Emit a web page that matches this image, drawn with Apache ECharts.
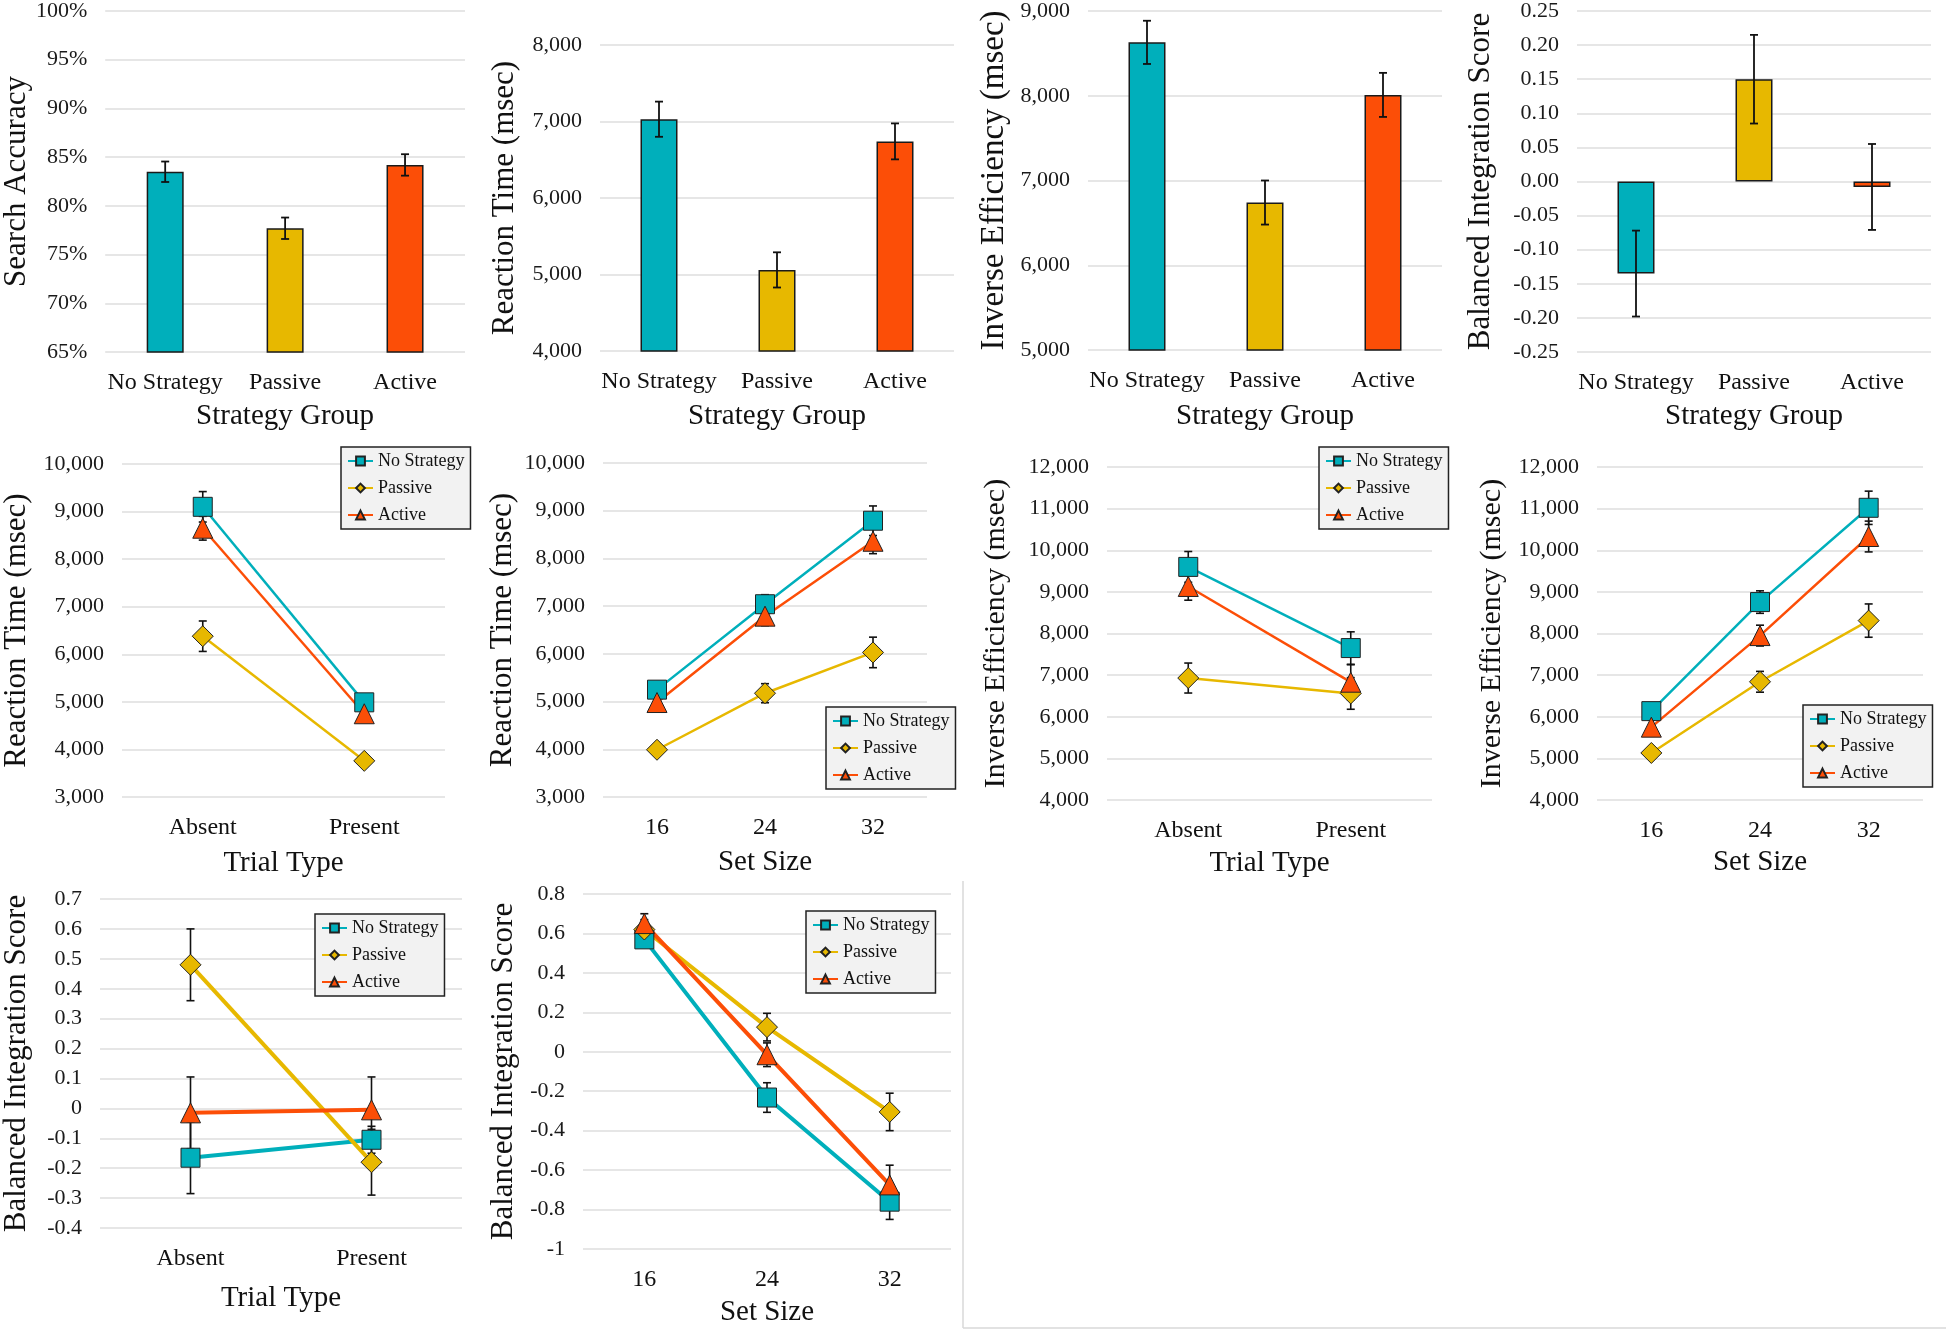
<!DOCTYPE html>
<html><head><meta charset="utf-8">
<script src="https://cdn.jsdelivr.net/npm/echarts@6/dist/echarts.min.js"></script>
<style>html,body{margin:0;padding:0;background:#fff}#c{width:1946px;height:1331px}</style>
</head><body><div id="c"></div>
<script>
// ---------------- DATA ----------------
const groups = ['No Strategy', 'Passive', 'Active'];
const strategyCategories = ['No Strategy', 'Passive', 'Active'];
const trialTypes = ['Absent', 'Present'];
const setSizes = ['16', '24', '32'];

// Row 1: bar charts by strategy group (mean, error)
const accuracyMean = [83.5, 77.7, 84.2];
const accuracyErr  = [1.05, 1.1, 1.1];
const rtGroupMean  = [7030, 5060, 6740];
const rtGroupErr   = [230, 230, 235];
const ieGroupMean  = [8630, 6740, 8010];
const ieGroupErr   = [255, 260, 260];
const bisGroupMean = [-0.135, 0.15, -0.008];
const bisGroupErr  = [0.063, 0.065, 0.063];

// Row 2: Reaction time by trial type
const rtTrialNoStrategy = [9100, 4990];
const rtTrialPassive    = [6380, 3760];
const rtTrialActive     = [8650, 4750];
const rtTrialErrNoStrategy = [320, 150];
const rtTrialErrPassive    = [320, 110];
const rtTrialErrActive     = [250, 150];

// Row 2: Reaction time by set size
const rtSetNoStrategy = [5250, 7040, 8790];
const rtSetPassive    = [3990, 5175, 6030];
const rtSetActive     = [4980, 6790, 8360];
const rtSetErrNoStrategy = [150, 200, 310];
const rtSetErrPassive    = [110, 200, 320];
const rtSetErrActive     = [150, 200, 260];

// Row 2: Inverse efficiency by trial type
const ieTrialNoStrategy = [9600, 7650];
const ieTrialPassive    = [6930, 6560];
const ieTrialActive     = [9130, 6830];
const ieTrialErrNoStrategy = [370, 390];
const ieTrialErrPassive    = [360, 380];
const ieTrialErrActive     = [330, 420];

// Row 2: Inverse efficiency by set size
const ieSetNoStrategy = [6135, 8755, 11020];
const ieSetPassive    = [5130, 6840, 8310];
const ieSetActive     = [5750, 7950, 10330];
const ieSetErrNoStrategy = [150, 270, 400];
const ieSetErrPassive    = [130, 250, 400];
const ieSetErrActive     = [170, 250, 370];

// Row 3: Balanced integration score by trial type
const bisTrialNoStrategy = [-0.165, -0.105];
const bisTrialPassive    = [0.48, -0.18];
const bisTrialActive     = [-0.015, -0.005];
const bisTrialErrNoStrategy = [0.12, 0.045];
const bisTrialErrPassive    = [0.12, 0.11];
const bisTrialErrActive     = [0.12, 0.11];

// Row 3: Balanced integration score by set size
const bisSetNoStrategy = [0.57, -0.232, -0.76];
const bisSetPassive    = [0.62, 0.125, -0.305];
const bisSetActive     = [0.65, -0.015, -0.675];
const bisSetErrNoStrategy = [0.04, 0.075, 0.09];
const bisSetErrPassive    = [0.05, 0.07, 0.095];
const bisSetErrActive     = [0.05, 0.06, 0.1];

// ---------------- STYLE / LAYOUT ----------------
const FONT = 'Liberation Serif';
const colors = ['#00AFBB', '#E7B800', '#FC4E07'];
const symbols = ['rect', 'diamond', 'triangle'];
const symbolSizes = [19, 21, 20];

const fmtThousands = v => Math.round(v).toLocaleString('en-US');
const fmtPct = v => Math.round(v) + '%';
const fmt2 = v => Math.abs(v) < 1e-9 ? '0.00' : v.toFixed(2);
const fmt1 = v => { const r = Math.round(v * 10) / 10; return Math.abs(r) < 1e-9 ? '0' : String(r); };

const panels = [
  {kind:'bar', l:105, t:10, w:360, h:342, min:65, max:100, step:5, fmt:fmtPct, yName:'Search Accuracy', yGap:72, ySize:31, xName:'Strategy Group', xGap:50, cats:strategyCategories, mean:accuracyMean, err:accuracyErr},
  {kind:'bar', l:600, t:45, w:354, h:306, min:4000, max:8000, step:1000, fmt:fmtThousands, yName:'Reaction Time (msec)', yGap:80, ySize:31, xName:'Strategy Group', xGap:51, cats:strategyCategories, mean:rtGroupMean, err:rtGroupErr},
  {kind:'bar', l:1088, t:7, w:354, h:343, min:5000, max:9000, step:1000, fmt:fmtThousands, yName:'Inverse Efficiency (msec)', yGap:77, ySize:33, xName:'Strategy Group', xGap:52, cats:strategyCategories, mean:ieGroupMean, err:ieGroupErr},
  {kind:'bar', l:1577, t:9, w:354, h:343, min:-0.25, max:0.25, step:0.05, fmt:fmt2, yName:'Balanced Integration Score', yGap:81, ySize:31, xName:'Strategy Group', xGap:50, cats:strategyCategories, mean:bisGroupMean, err:bisGroupErr},

  {kind:'line', lw:2.5, l:120, t:464, w:325, h:333, min:3000, max:10000, step:1000, fmt:fmtThousands, yName:'Reaction Time (msec)', yGap:90, ySize:31, xName:'Trial Type', xGap:52, cats:trialTypes,
    means:[rtTrialNoStrategy, rtTrialPassive, rtTrialActive], errs:[rtTrialErrNoStrategy, rtTrialErrPassive, rtTrialErrActive], legend:{l:341, t:447}},
  {kind:'line', lw:2.5, l:603, t:463, w:324, h:334, min:3000, max:10000, step:1000, fmt:fmtThousands, yName:'Reaction Time (msec)', yGap:85, ySize:31, xName:'Set Size', xGap:51, cats:setSizes,
    means:[rtSetNoStrategy, rtSetPassive, rtSetActive], errs:[rtSetErrNoStrategy, rtSetErrPassive, rtSetErrActive], legend:{l:826, t:707}},
  {kind:'line', lw:2.5, l:1107, t:467, w:325, h:333, min:4000, max:12000, step:1000, fmt:fmtThousands, yName:'Inverse Efficiency (msec)', yGap:96, ySize:30, xName:'Trial Type', xGap:49, cats:trialTypes,
    means:[ieTrialNoStrategy, ieTrialPassive, ieTrialActive], errs:[ieTrialErrNoStrategy, ieTrialErrPassive, ieTrialErrActive], legend:{l:1319, t:447}},
  {kind:'line', lw:2.5, l:1597, t:467, w:326, h:333, min:4000, max:12000, step:1000, fmt:fmtThousands, yName:'Inverse Efficiency (msec)', yGap:90, ySize:30, xName:'Set Size', xGap:48, cats:setSizes,
    means:[ieSetNoStrategy, ieSetPassive, ieSetActive], errs:[ieSetErrNoStrategy, ieSetErrPassive, ieSetErrActive], legend:{l:1803, t:705}},

  {kind:'line', lw:4, l:100, t:899, w:362, h:329, min:-0.4, max:0.7, step:0.1, fmt:fmt1, yName:'Balanced Integration Score', yGap:68, ySize:31, xName:'Trial Type', xGap:56, cats:trialTypes,
    means:[bisTrialNoStrategy, bisTrialPassive, bisTrialActive], errs:[bisTrialErrNoStrategy, bisTrialErrPassive, bisTrialErrActive], legend:{l:315, t:914}},
  {kind:'line', lw:4, l:583, t:894, w:368, h:355, min:-1, max:0.8, step:0.2, fmt:fmt1, yName:'Balanced Integration Score', yGap:64, ySize:31, xName:'Set Size', xGap:49, cats:setSizes,
    means:[bisSetNoStrategy, bisSetPassive, bisSetActive], errs:[bisSetErrNoStrategy, bisSetErrPassive, bisSetErrActive], legend:{l:806, t:911}}
];

function errRender(capHalf, lw) {
  return function (params, api) {
    const x = api.value(0), y = api.value(1), e = api.value(2);
    const top = api.coord([x, y + e]);
    const bot = api.coord([x, y - e]);
    const st = {stroke: '#111', lineWidth: lw};
    return {type: 'group', children: [
      {type: 'line', shape: {x1: top[0], y1: top[1], x2: bot[0], y2: bot[1]}, style: st},
      {type: 'line', shape: {x1: top[0] - capHalf, y1: top[1], x2: top[0] + capHalf, y2: top[1]}, style: st},
      {type: 'line', shape: {x1: bot[0] - capHalf, y1: bot[1], x2: bot[0] + capHalf, y2: bot[1]}, style: st}
    ]};
  };
}

const grid = [], xAxis = [], yAxis = [], series = [], legend = [];
panels.forEach((p, i) => {
  grid.push({left: p.l, top: p.t, width: p.w, height: p.h, containLabel: false});
  xAxis.push({
    type: 'category', gridIndex: i, data: p.cats,
    name: p.xName, nameLocation: 'middle', nameGap: p.xGap,
    nameTextStyle: {fontSize: 29, color: '#111', fontFamily: FONT},
    axisLine: {show: false}, axisTick: {show: false}, splitLine: {show: false},
    axisLabel: {fontSize: 24, color: '#111', margin: 19, interval: 0, fontFamily: FONT}
  });
  yAxis.push({
    type: 'value', gridIndex: i, min: p.min, max: p.max, interval: p.step,
    name: p.yName, nameLocation: 'middle', nameGap: p.yGap,
    nameTextStyle: {fontSize: p.ySize, color: '#111', fontFamily: FONT},
    axisLine: {show: false}, axisTick: {show: false},
    axisLabel: {fontSize: 22, color: '#1a1a1a', margin: 18, formatter: p.fmt, fontFamily: FONT},
    splitLine: {show: true, lineStyle: {color: '#e6e6e6', width: 2}}
  });
  if (p.kind === 'bar') {
    series.push({
      type: 'bar', name: p.yName + ' bars', xAxisIndex: i, yAxisIndex: i, barWidth: 37, z: 2,
      itemStyle: {borderColor: '#1a1a1a', borderWidth: 1.5},
      data: p.mean.map((v, k) => ({value: v, itemStyle: {color: colors[k]}}))
    });
    series.push({
      type: 'custom', name: p.yName + ' err', xAxisIndex: i, yAxisIndex: i, z: 3,
      renderItem: errRender(4, 1.8), encode: {x: 0, y: 1},
      data: p.mean.map((v, k) => [k, v, p.err[k]])
    });
  } else {
    p.means.forEach((vals, g) => {
      series.push({
        type: 'custom', name: groups[g] + ' err ' + i, xAxisIndex: i, yAxisIndex: i, z: 2,
        renderItem: errRender(4, 1.6), encode: {x: 0, y: 1},
        data: vals.map((v, k) => [k, v, p.errs[g][k]])
      });
    });
    p.means.forEach((vals, g) => {
      series.push({
        type: 'line', name: groups[g], xAxisIndex: i, yAxisIndex: i, z: 3,
        data: vals, symbol: symbols[g], symbolSize: symbolSizes[g],
        lineStyle: {color: colors[g], width: p.lw},
        itemStyle: {color: colors[g], borderColor: '#222', borderWidth: 1},
        emphasis: {disabled: true}
      });
    });
    legend.push({
      data: groups, orient: 'vertical', left: p.legend.l, top: p.legend.t,
      itemWidth: 25, itemHeight: 11, itemGap: 9, padding: [5, 6, 5, 6],
      backgroundColor: '#f2f2f2', borderColor: '#222', borderWidth: 1.5,
      textStyle: {fontSize: 18, color: '#111', fontFamily: FONT},
      selectedMode: false
    });
  }
});

const chart = echarts.init(document.getElementById('c'), null, {renderer: 'canvas'});
chart.setOption({
  animation: false,
  backgroundColor: '#ffffff',
  textStyle: {fontFamily: FONT},
  grid, xAxis, yAxis, series, legend,
  graphic: [
    {type: 'line', shape: {x1: 963, y1: 881, x2: 963, y2: 1328}, style: {stroke: '#d9d9d9', lineWidth: 1.5}},
    {type: 'line', shape: {x1: 963, y1: 1328, x2: 1946, y2: 1328}, style: {stroke: '#d9d9d9', lineWidth: 1.5}}
  ]
});
</script></body></html>
